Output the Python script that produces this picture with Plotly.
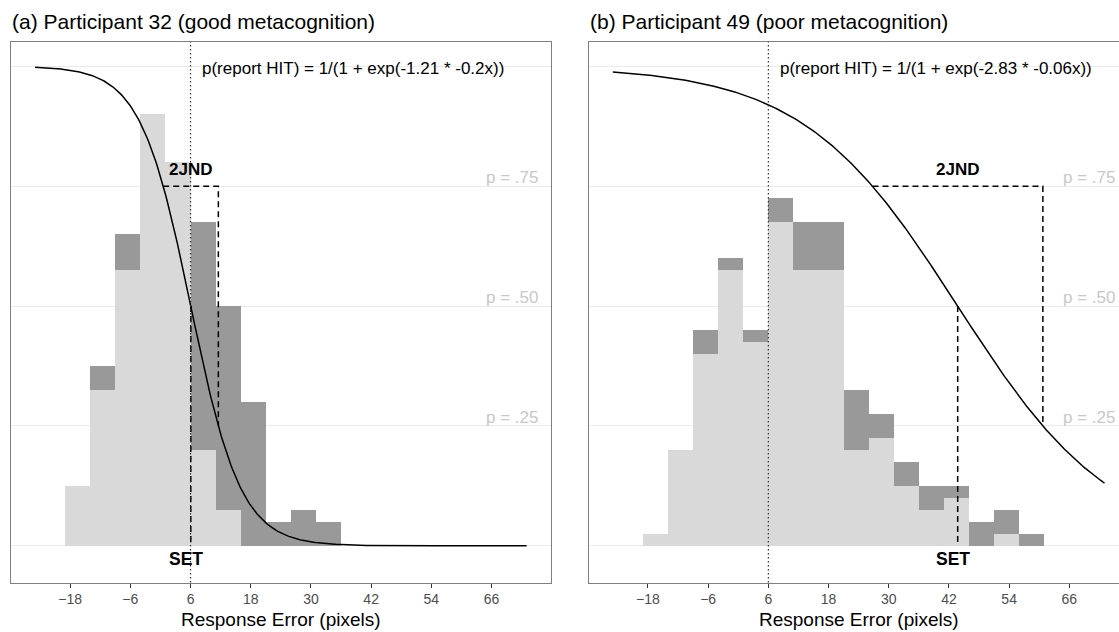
import numpy as np
import plotly.graph_objects as go

# ---------------- data ----------------
panel_titles = ["(a) Participant 32 (good metacognition)",
                "(b) Participant 49 (poor metacognition)"]
equations = ["p(report HIT) = 1/(1 + exp(-1.21 * -0.2x))",
             "p(report HIT) = 1/(1 + exp(-2.83 * -0.06x))"]

bins_a = [-16.5, -11.5, -6.5, -1.5, 3.5, 8.5, 13.5, 18.5, 23.5, 28.5, 33.5]
light_a = [5, 13, 23, 36, 32, 8, 3, 0, 0, 0, 0]
dark_a = [0, 2, 3, 0, 0, 19, 17, 12, 2, 3, 2]

bins_b = [-16.5, -11.5, -6.5, -1.5, 3.5, 8.5, 13.5, 18.5, 23.5, 28.5, 33.5,
          38.5, 43.5, 48.5, 53.5, 58.5]
light_b = [1, 8, 16, 23, 17, 27, 23, 23, 8, 9, 5, 3, 4, 0, 1, 0]
dark_b = [0, 0, 2, 1, 1, 2, 4, 4, 5, 2, 2, 2, 1, 2, 2, 1]

# logistic fits: p = 1 / (1 + exp(-(b0 + b1 * x)))
intercept_a, slope_a = 1.21, -0.2
intercept_b, slope_b = 2.83, -0.0647

reference_x = 6
count_scale = 1 / 40          # histogram counts drawn on the probability scale
bin_width = 5
curve_start, curve_end = -25, 73

tick_vals = [-18, -6, 6, 18, 30, 42, 54, 66]
p_levels = [0.25, 0.50, 0.75]
p_labels = ["p = .25", "p = .50", "p = .75"]
x_title = "Response Error (pixels)"

# ---------------- style ----------------
FONT = "Liberation Sans, Arial, sans-serif"
LIGHT = "#d9d9d9"
DARK = "#999999"
GRID = "#ebebeb"
BORDER = "#7f7f7f"
W, H = 1119, 632

def px_x(p):
    return p / W

def px_y(p):
    return (H - p) / H

dom_a = [px_x(10.7), px_x(551)]
dom_b = [px_x(588.5), 1.0]
dom_y = [px_y(582.5), px_y(41.7)]
units_per_px = 107.7 / (551 - 10.7)
range_a = [-29.85, 77.85]
range_b = [-29.85, -29.85 + (W - 588.5) * units_per_px]
range_y = [-0.0765, 1.0515]

fig = go.Figure()
shapes = []
annotations = []

panels = [
    ("x", "y", bins_a, light_a, dark_a, intercept_a, slope_a, 0),
    ("x2", "y2", bins_b, light_b, dark_b, intercept_b, slope_b, 1),
]

for xa, ya, bins, light, dark, b0, b1, i in panels:
    fig.add_trace(go.Bar(x=bins, y=[v * count_scale for v in light], width=bin_width,
                         marker=dict(color=LIGHT, line=dict(width=0)),
                         xaxis=xa, yaxis=ya, showlegend=False, hoverinfo="skip"))
    fig.add_trace(go.Bar(x=bins, y=[v * count_scale for v in dark], width=bin_width,
                         marker=dict(color=DARK, line=dict(width=0)),
                         xaxis=xa, yaxis=ya, showlegend=False, hoverinfo="skip"))

    cx = np.linspace(curve_start, curve_end, 400)
    cy = 1 / (1 + np.exp(-(b0 + b1 * cx)))
    fig.add_trace(go.Scatter(x=cx, y=cy, mode="lines",
                             line=dict(color="black", width=1.5),
                             xaxis=xa, yaxis=ya, showlegend=False, hoverinfo="skip"))

    set_x = -b0 / b1
    x75 = (np.log(3) - b0) / b1
    x25 = (-np.log(3) - b0) / b1
    dash = dict(color="black", width=1.5, dash="6px,4px")
    # 2JND bracket
    fig.add_trace(go.Scatter(x=[x75, x25, x25], y=[0.75, 0.75, 0.25], mode="lines",
                             line=dash, xaxis=xa, yaxis=ya, showlegend=False,
                             hoverinfo="skip"))
    # SET line
    fig.add_trace(go.Scatter(x=[set_x, set_x], y=[0.5, 0], mode="lines",
                             line=dash, xaxis=xa, yaxis=ya, showlegend=False,
                             hoverinfo="skip"))
    # dotted reference line
    shapes.append(dict(type="line", xref=xa, yref=f"{ya} domain",
                       x0=reference_x, x1=reference_x, y0=0, y1=1,
                       line=dict(color="#333333", width=1.2, dash="1.5px,2.5px"),
                       layer="above"))

    annotations.append(dict(xref=xa, yref=ya, x=(x75 + x25) / 2, y=0.785,
                            text="<b>2JND</b>", showarrow=False,
                            font=dict(family=FONT, size=17, color="black"),
                            xanchor="center", yanchor="middle"))
    annotations.append(dict(xref=xa, yref=ya, x=set_x - 1.0, y=-0.028,
                            text="<b>SET</b>", showarrow=False,
                            font=dict(family=FONT, size=17.5, color="black"),
                            xanchor="center", yanchor="middle"))
    annotations.append(dict(xref=xa, yref=ya, x=7.9, y=0.996,
                            text=equations[i], showarrow=False,
                            font=dict(family=FONT, size=17, color="black"),
                            xanchor="left", yanchor="middle"))
    for pv, pl in zip(p_levels, p_labels):
        annotations.append(dict(xref=xa, yref=ya, x=70, y=pv + 0.018,
                                text=pl, showarrow=False,
                                font=dict(family=FONT, size=17, color="#c8c8c8"),
                                xanchor="center", yanchor="middle"))

# titles
annotations.append(dict(xref="paper", yref="paper", x=px_x(9.5), y=px_y(22),
                        text=panel_titles[0], showarrow=False,
                        font=dict(family=FONT, size=21, color="black"),
                        xanchor="left", yanchor="middle"))
annotations.append(dict(xref="paper", yref="paper", x=px_x(587.5), y=px_y(22),
                        text=panel_titles[1], showarrow=False,
                        font=dict(family=FONT, size=21, color="black"),
                        xanchor="left", yanchor="middle"))
# axis titles
annotations.append(dict(xref="paper", yref="paper", x=px_x(281), y=px_y(619),
                        text=x_title, showarrow=False,
                        font=dict(family=FONT, size=19, color="black"),
                        xanchor="center", yanchor="middle"))
annotations.append(dict(xref="paper", yref="paper", x=px_x(859), y=px_y(619),
                        text=x_title, showarrow=False,
                        font=dict(family=FONT, size=19, color="black"),
                        xanchor="center", yanchor="middle"))

xaxis_common = dict(tickmode="array", tickvals=tick_vals, ticks="outside", ticklen=4,
                    tickwidth=1.1, tickcolor="#333333", showgrid=False, zeroline=False,
                    showline=True, linecolor=BORDER, linewidth=1.2, mirror=True,
                    tickfont=dict(family=FONT, size=14, color="#4d4d4d"),
                    fixedrange=True)
yaxis_common = dict(tickmode="array", tickvals=[0, 0.25, 0.5, 0.75, 1.0],
                    showticklabels=False, ticks="", showgrid=True, gridcolor=GRID,
                    gridwidth=1, zeroline=False, showline=True, linecolor=BORDER,
                    linewidth=1.2, range=range_y, domain=dom_y, fixedrange=True)

fig.update_layout(
    width=W, height=H,
    margin=dict(l=0, r=0, t=0, b=0, autoexpand=False),
    paper_bgcolor="white", plot_bgcolor="white",
    barmode="stack", showlegend=False,
    xaxis=dict(**xaxis_common, domain=dom_a, range=range_a, anchor="y"),
    xaxis2=dict(**xaxis_common, domain=dom_b, range=range_b, anchor="y2"),
    yaxis=dict(**yaxis_common, anchor="x", mirror=True),
    yaxis2=dict(**yaxis_common, anchor="x2", mirror=False),
    shapes=shapes,
    annotations=annotations,
    font=dict(family=FONT),
)

fig.write_html("out.html")
